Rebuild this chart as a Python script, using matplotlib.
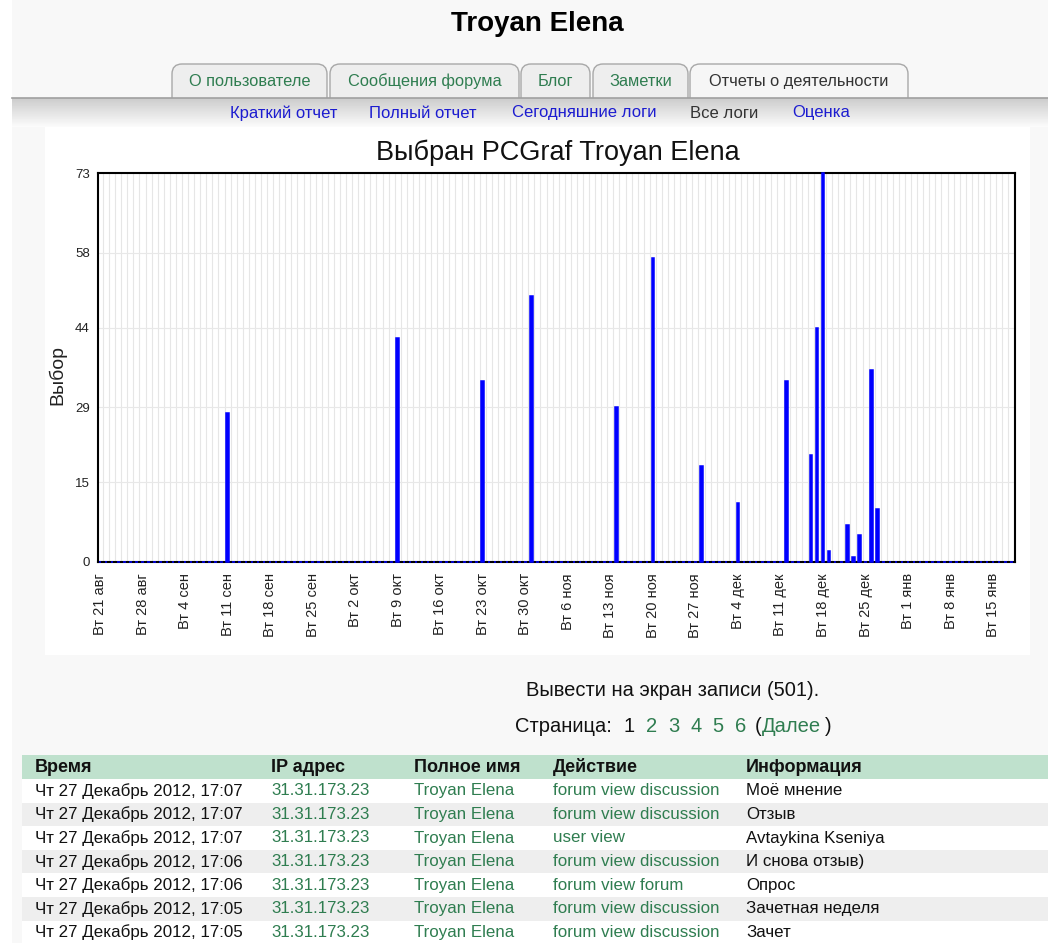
import matplotlib
matplotlib.use("Agg")
import matplotlib.pyplot as plt
import numpy as np
import pandas as pd
from matplotlib.patches import FancyBboxPatch, Rectangle

plt.rcParams['font.family'] = ['Liberation Sans', 'DejaVu Sans']

# ---------------- data ----------------
page_title = "Troyan Elena"
chart_title = "Выбран PCGraf Troyan Elena"
y_label = "Выбор"
start_date = "2012-08-21"
end_date = "2013-01-18"
active_dates = ["2012-09-11", "2012-10-09", "2012-10-23", "2012-10-31", "2012-11-14",
                "2012-11-20", "2012-11-28", "2012-12-04", "2012-12-12", "2012-12-16",
                "2012-12-17", "2012-12-18", "2012-12-19", "2012-12-22", "2012-12-23",
                "2012-12-24", "2012-12-26", "2012-12-27"]
active_counts = [28, 42, 34, 50, 29, 57, 18, 11, 34, 20, 44, 73, 2, 7, 1, 5, 36, 10]
y_ticks = [0, 15, 29, 44, 58, 73]
x_tick_labels = ["Вт 21 авг", "Вт 28 авг", "Вт 4 сен", "Вт 11 сен", "Вт 18 сен", "Вт 25 сен",
                 "Вт 2 окт", "Вт 9 окт", "Вт 16 окт", "Вт 23 окт", "Вт 30 окт", "Вт 6 ноя",
                 "Вт 13 ноя", "Вт 20 ноя", "Вт 27 ноя", "Вт 4 дек", "Вт 11 дек", "Вт 18 дек",
                 "Вт 25 дек", "Вт 1 янв", "Вт 8 янв", "Вт 15 янв"]

tabs = ["О пользователе", "Сообщения форума", "Блог", "Заметки", "Отчеты о деятельности"]
subnav = ["Краткий отчет", "Полный отчет", "Сегодняшние логи", "Все логи", "Оценка"]
records_text = "Вывести на экран записи (501)."
pages = ["1", "2", "3", "4", "5", "6"]

col_headers = ["Время", "IP адрес", "Полное имя", "Действие", "Информация"]
times = ["Чт 27 Декабрь 2012, 17:07", "Чт 27 Декабрь 2012, 17:07", "Чт 27 Декабрь 2012, 17:07",
         "Чт 27 Декабрь 2012, 17:06", "Чт 27 Декабрь 2012, 17:06", "Чт 27 Декабрь 2012, 17:05",
         "Чт 27 Декабрь 2012, 17:05"]
ips = ["31.31.173.23"] * 7
names = ["Troyan Elena"] * 7
actions = ["forum view discussion", "forum view discussion", "user view", "forum view discussion",
           "forum view forum", "forum view discussion", "forum view discussion"]
infos = ["Моё мнение", "Отзыв", "Avtaykina Kseniya", "И снова отзыв)", "Опрос",
         "Зачетная неделя", "Зачет"]

# ---------------- styles ----------------
PAGE = "#f8f8f8"
GREEN = "#2f7d50"
BLUE_LINK = "#1c1cd0"
BAR = "#0000ff"

W, H = 1048, 943
fig = plt.figure(figsize=(W / 100, H / 100), dpi=100)
fig.patch.set_facecolor(PAGE)

bg = fig.add_axes([0, 0, 1, 1])
bg.set_xlim(0, W)
bg.set_ylim(H, 0)
bg.axis('off')

bg.add_patch(Rectangle((0, 0), 12, H, facecolor="white", edgecolor="none", zorder=0))

# page title
bg.text(537, 24, page_title, ha='center', va='center', fontsize=20, fontweight='bold', color='black')

# tabs
tab_x = [(172, 327), (330, 519), (521, 590), (593, 688), (690, 908)]
for i, ((x0, x1), lab) in enumerate(zip(tab_x, tabs)):
    active = (i == len(tabs) - 1)
    p = FancyBboxPatch((x0, 64), x1 - x0, 50, boxstyle="round,pad=0,rounding_size=10",
                       facecolor="#f6f6f6" if active else "#eeeeee",
                       edgecolor="#a8a8a8", lw=1.0, zorder=2)
    bg.add_patch(p)
    bg.text((x0 + x1) / 2, 81.5, lab, ha='center', va='center', fontsize=11.8,
            color="#333333" if active else GREEN, zorder=3)

# sub navigation band with gradient
grad = np.linspace(0.80, 0.985, 40).reshape(-1, 1)
bg.imshow(grad, extent=(12, W, 127, 98), origin='upper', cmap='gray', vmin=0, vmax=1,
          aspect='auto', zorder=4, interpolation='bilinear')
bg.plot([12, W], [97.5, 97.5], color="#a0a0a0", lw=1.2, zorder=5)
sub_x = [284, 423, 584, 724, 821]
for i, (x, lab) in enumerate(zip(sub_x, subnav)):
    bg.text(x, 113, lab, ha='center', va='center', fontsize=12,
            color="#333333" if lab == "Все логи" else BLUE_LINK, zorder=6)

# chart panel
bg.add_patch(Rectangle((45, 127), 985, 528, facecolor="white", edgecolor="none", zorder=1))
bg.text(558, 160, chart_title, ha='center', va='baseline', fontsize=19.5, color='#111111', zorder=6)
bg.text(57, 375, y_label, ha='center', va='center', rotation=90, fontsize=14, color='#222222', zorder=6)

# ---------------- chart ----------------
days = pd.date_range(start_date, end_date, freq='D')
n_days = len(days)
counts = pd.Series(0, index=days)
counts[pd.to_datetime(active_dates)] = active_counts
idx = np.arange(n_days)

ax = fig.add_axes([98 / W, 1 - 562 / H, 917 / W, 389 / H])
ax.set_facecolor("white")
ax.bar(idx, counts.values, width=0.42, color=BAR, edgecolor=BAR, linewidth=1.1,
       zorder=3, clip_on=False)
ax.set_xlim(-0.33, n_days - 0.4)
ax.set_ylim(0, 73)
ax.set_yticks(y_ticks)
ax.set_yticklabels([str(v) for v in y_ticks])
ax.set_xticks(idx[::7][:len(x_tick_labels)])
ax.set_xticklabels(x_tick_labels, rotation=90)
ax.set_xticks(idx + 0.5, minor=True)
ax.tick_params(axis='x', which='both', length=0, pad=8, labelsize=10.5, labelcolor='#222222')
ax.tick_params(axis='y', which='both', length=0, pad=6, labelsize=9.5, labelcolor='#222222')
ax.grid(True, axis='x', which='minor', color='#e6e6e6', lw=0.8, zorder=0)
ax.grid(True, axis='y', which='major', color='#e8e8e8', lw=0.8, zorder=0)
ax.grid(False, axis='x', which='major')
for s in ax.spines.values():
    s.set_color('black')
    s.set_linewidth(1.5)
    s.set_zorder(2.5)

# ---------------- below chart ----------------
FS = 14.5
bg.text(673, 690, records_text, ha='center', va='center', fontsize=FS, color='#111111')
bg.text(515, 727, "Страница:", ha='left', va='center', fontsize=FS, color='#111111')
page_x = [629, 652, 674, 696, 718, 741]
for x, p in zip(page_x, pages):
    bg.text(x, 727, p, ha='center', va='center', fontsize=FS,
            color='#111111' if p == "1" else GREEN)
bg.text(755, 727, "(", ha='left', va='center', fontsize=FS, color='#111111')
bg.text(762, 727, "Далее", ha='left', va='center', fontsize=FS, color=GREEN)
bg.text(832, 727, ")", ha='right', va='center', fontsize=FS, color='#111111')

# table
col_x = [35, 271, 414, 553, 746]
bg.add_patch(Rectangle((22, 755), W - 22, 24, facecolor="#bfe1cd", edgecolor="none", zorder=1))
for x, h in zip(col_x, col_headers):
    bg.text(x, 767, h, ha='left', va='center', fontsize=13, fontweight='bold', color='#111111', zorder=3)
row_h = 23.6
for r in range(len(times)):
    y0 = 779 + r * row_h
    bg.add_patch(Rectangle((22, y0), W - 22, row_h,
                           facecolor="white" if r % 2 == 0 else "#eeeeee",
                           edgecolor="none", zorder=1))
    yc = y0 + row_h / 2
    vals = [times[r], ips[r], names[r], actions[r], infos[r]]
    colors = ['#111111', GREEN, GREEN, GREEN, '#111111']
    for x, v, c in zip(col_x, vals, colors):
        bg.text(x, yc, v, ha='left', va='center', fontsize=12.2, color=c, zorder=3)

bg.set_xlim(0, W)
bg.set_ylim(H, 0)
fig.savefig("out.png", dpi=100, facecolor=fig.get_facecolor())
